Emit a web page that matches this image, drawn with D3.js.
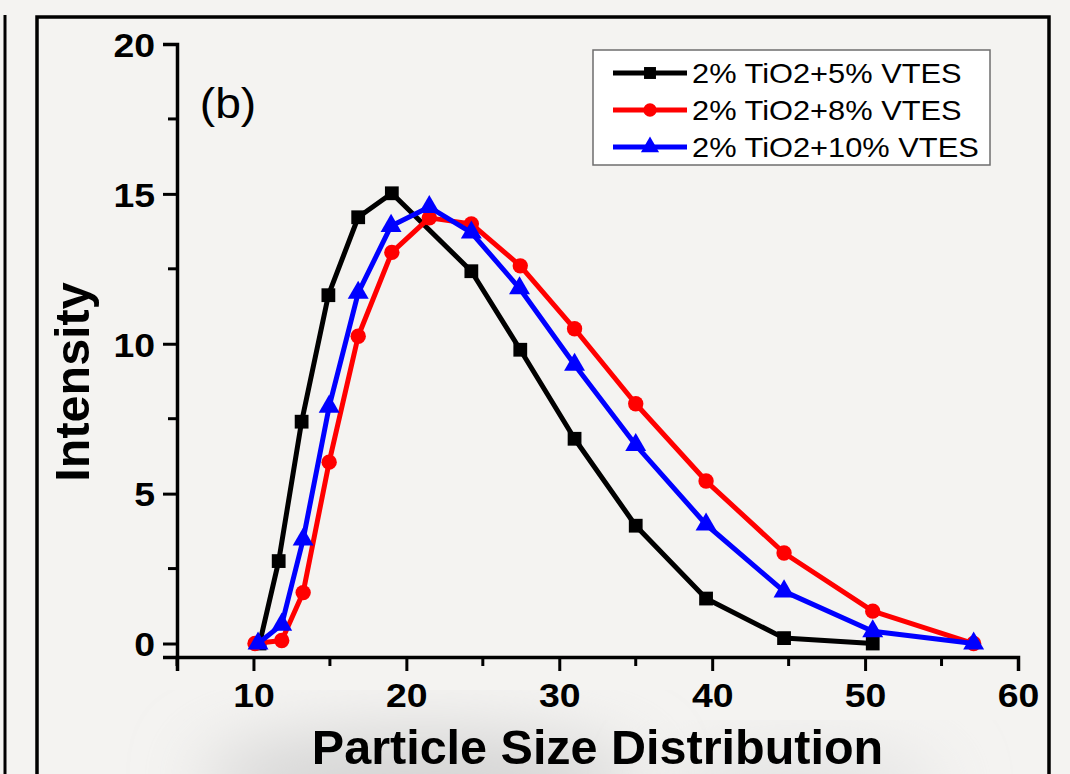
<!DOCTYPE html>
<html lang="en">
<head>
<meta charset="UTF-8">
<title>Particle Size Distribution (b)</title>
<script src="https://d3js.org/d3.v7.min.js"></script>
<style>
  body { margin: 0; background: #f4f3f1; }
  svg { display: block; }
  text { font-family: "Liberation Sans", Arial, sans-serif; fill: #000; }
  .tick-label { font-size: 34px; font-weight: bold; }
  .axis-title { font-size: 48.5px; font-weight: bold; }
  .legend-text { font-size: 28px; }
</style>
</head>
<body>
<div id="chart"></div>
<script>
// particle size bins (x) and intensity (y)
const sizes5  = [10.4, 11.65, 13.15, 14.9, 16.85, 19.05, 24.25, 27.45, 31.0, 35.0, 39.6, 44.7, 50.5];
const vtes5   = [0, 2.75, 7.4, 11.62, 14.22, 15.02, 12.42, 9.8, 6.83, 3.93, 1.5, 0.18, 0];
const sizes8  = [10.1, 11.85, 13.25, 14.95, 16.85, 19.05, 21.5, 24.25, 27.45, 31.0, 35.0, 39.6, 44.7, 50.5, 57.1];
const vtes8   = [0, 0.1, 1.7, 6.05, 10.25, 13.05, 14.2, 14.0, 12.6, 10.5, 8.0, 5.42, 3.02, 1.08, 0];
const sizes10 = [10.3, 11.85, 13.25, 14.95, 16.85, 19.0, 21.5, 24.25, 27.4, 31.0, 35.0, 39.6, 44.7, 50.5, 57.1];
const vtes10  = [0, 0.63, 3.47, 7.9, 11.7, 13.93, 14.56, 13.71, 11.85, 9.3, 6.62, 3.97, 1.74, 0.41, 0];

const seriesNames = ['2% TiO2+5% VTES', '2% TiO2+8% VTES', '2% TiO2+10% VTES'];
const xTicks = [10, 20, 30, 40, 50, 60];
const xMinor = [5, 15, 25, 35, 45, 55];
const yTicks = [0, 5, 10, 15, 20];
const yMinor = [2.5, 7.5, 12.5, 17.5];

const W = 1070, H = 774;
const series = [
  { name: seriesNames[0], xs: sizes5, ys: vtes5, color: '#000000', shape: d3.symbolSquare, size: 190 },
  { name: seriesNames[1], xs: sizes8, ys: vtes8, color: '#ff0000', shape: d3.symbolCircle, size: 185 },
  { name: seriesNames[2], xs: sizes10, ys: vtes10, color: '#0000ff', shape: d3.symbolTriangle, size: 190 }
];

const svg = d3.select('#chart').append('svg')
    .attr('width', W)
    .attr('height', H);

// soft background shading
const defs = svg.append('defs');
defs.append('filter').attr('id', 'blur')
    .attr('x', '-50%').attr('y', '-50%').attr('width', '200%').attr('height', '200%')
  .append('feGaussianBlur').attr('stdDeviation', 35);

svg.append('rect').attr('width', W).attr('height', H).attr('fill', '#f4f3f1');
svg.append('ellipse').attr('cx', 420).attr('cy', 780).attr('rx', 220).attr('ry', 45)
    .attr('fill', '#d2d2d2').attr('filter', 'url(#blur)');
svg.append('ellipse').attr('cx', 800).attr('cy', 790).attr('rx', 140).attr('ry', 35)
    .attr('fill', '#e0e0e0').attr('filter', 'url(#blur)');

// panel frames
svg.append('line').attr('x1', 5).attr('x2', 5).attr('y1', 15).attr('y2', H)
    .attr('stroke', '#000').attr('stroke-width', 3);
svg.append('path')
    .attr('d', `M37,${H + 5} V17 H1049 V${H + 5}`)
    .attr('fill', 'none').attr('stroke', '#000').attr('stroke-width', 3.5);

// scales
const x = d3.scaleLinear().domain([5, 60]).range([177, 1018]);
const y = d3.scaleLinear().domain([-0.45, 20]).range([657, 44]);

// axes
const xAxis = svg.append('g').attr('transform', `translate(0,${y(-0.45)})`);
xAxis.call(d3.axisBottom(x).tickValues(xTicks).tickSize(14).tickFormat(d3.format('d')));
xAxis.append('g').selectAll('line').data(xMinor).join('line')
    .attr('x1', d => x(d)).attr('x2', d => x(d)).attr('y1', 0).attr('y2', 9)
    .attr('stroke', '#000').attr('stroke-width', 3);

const yAxis = svg.append('g').attr('transform', `translate(${x(5)},0)`);
yAxis.call(d3.axisLeft(y).tickValues(yTicks).tickSize(14).tickFormat(d3.format('d')));
yAxis.append('g').selectAll('line').data(yMinor).join('line')
    .attr('y1', d => y(d)).attr('y2', d => y(d)).attr('x1', 0).attr('x2', -9)
    .attr('stroke', '#000').attr('stroke-width', 3);

[xAxis, yAxis].forEach(g => {
  g.select('.domain').attr('stroke', '#000').attr('stroke-width', 3.5);
  g.selectAll('.tick line').attr('stroke', '#000').attr('stroke-width', 3);
  g.selectAll('.tick text').attr('class', 'tick-label stretch').attr('font-size', null).attr('font-family', null);
});
xAxis.selectAll('.tick text').attr('y', 26);
yAxis.selectAll('.tick text').attr('x', -22).attr('dy', '0.36em');

// axis titles
svg.append('text').attr('class', 'axis-title')
    .attr('x', (x(5) + x(60)) / 2).attr('y', 764)
    .attr('text-anchor', 'middle')
    .text('Particle Size Distribution');
svg.append('text').attr('class', 'axis-title')
    .attr('transform', `translate(89,382) rotate(-90)`)
    .attr('text-anchor', 'middle')
    .text('Intensity');

svg.append('text').attr('class', 'stretch').attr('x', 228).attr('y', 118)
    .attr('text-anchor', 'middle').style('font-size', '42px')
    .text('(b)');

// lines and markers
const line = d3.line().x(d => x(d[0])).y(d => y(d[1]));
series.forEach(s => {
  const pts = s.xs.map((v, i) => [v, s.ys[i]]);
  svg.append('path').datum(pts)
      .attr('d', line)
      .attr('fill', 'none').attr('stroke', s.color)
      .attr('stroke-width', 5).attr('stroke-linejoin', 'round');
  svg.append('g').selectAll('path').data(pts).join('path')
      .attr('transform', d => `translate(${x(d[0])},${y(d[1])})`)
      .attr('d', d3.symbol().type(s.shape).size(s.size))
      .attr('fill', s.color);
});

// legend
const legend = svg.append('g');
legend.append('rect').attr('x', 593).attr('y', 50).attr('width', 397).attr('height', 115)
    .attr('fill', '#ffffff').attr('stroke', '#6e6e6e').attr('stroke-width', 1.5);
const rowY = d3.scalePoint().domain(seriesNames).range([73, 147]);
series.forEach(s => {
  const g = legend.append('g').attr('transform', `translate(0,${rowY(s.name)})`);
  g.append('line').attr('x1', 613).attr('x2', 687).attr('y1', 0).attr('y2', 0)
      .attr('stroke', s.color).attr('stroke-width', 5);
  g.append('path').attr('transform', 'translate(650,0)')
      .attr('d', d3.symbol().type(s.shape).size(s.size * 0.75))
      .attr('fill', s.color);
  g.append('text').attr('class', 'legend-text stretch')
      .attr('x', 692).attr('y', 0).attr('dy', '0.36em')
      .text(s.name);
});

// the source figure's lettering is a little wider than Arial
svg.selectAll('.stretch').each(function() {
  const len = this.getComputedTextLength();
  d3.select(this).attr('textLength', len * 1.1).attr('lengthAdjust', 'spacingAndGlyphs');
});
</script>
</body>
</html>
